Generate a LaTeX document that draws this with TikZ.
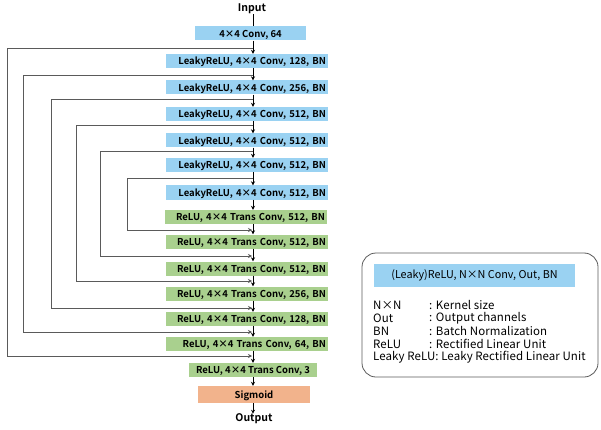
\documentclass[tikz,border=0pt]{standalone}
\usepackage{fontspec}
\setmainfont{Noto Sans CJK JP}[BoldFont={Noto Sans CJK JP Bold}]
\usetikzlibrary{arrows.meta}
\definecolor{bblue}{HTML}{9AD2F2}
\definecolor{bgreen}{HTML}{A9D08E}
\definecolor{borange}{HTML}{F2B38C}
\definecolor{skipgray}{HTML}{5A5A5A}
\tikzset{
  blk/.style={rectangle, inner xsep=2pt, inner ysep=0pt, minimum height=14pt, font=\bfseries\fontsize{9.5}{10}\selectfont, text depth=0pt},
  bluebox/.style={blk, fill=bblue},
  greenbox/.style={blk, fill=bgreen},
  widebox/.style={text width=158pt, align=right},
  marr/.style={line width=1pt, -{Stealth[length=4pt,width=4pt]}},
  skipline/.style={line width=0.8pt, draw=skipgray, -{Stealth[length=4pt,width=4pt]}},
  lbl/.style={font=\bfseries\fontsize{10.5}{11}\selectfont, inner sep=0pt},
  legtxt/.style={font=\fontsize{11.5}{12}\selectfont\addfontfeature{LetterSpace=0.8}, inner sep=0pt, anchor=west}
}
\begin{document}
\begin{tikzpicture}[x=1pt,y=-1pt]
\useasboundingbox (0,0) rectangle (601,430);
\coordinate (mx) at (253,0);
% nodes
\node[lbl] (in) at (252,9) {Input};
\node[bluebox, minimum width=111pt] (b1) at (250.5,33.5) {4×4 Conv, 64};
\node[bluebox, widebox] (b2) at (247,61) {LeakyReLU, 4×4 Conv, 128, BN};
\node[bluebox, widebox] (b3) at (247,87.5) {LeakyReLU, 4×4 Conv, 256, BN};
\node[bluebox, widebox] (b4) at (247,114) {LeakyReLU, 4×4 Conv, 512, BN};
\node[bluebox, widebox] (b5) at (247,140.5) {LeakyReLU, 4×4 Conv, 512, BN};
\node[bluebox, widebox] (b6) at (247,165) {LeakyReLU, 4×4 Conv, 512, BN};
\node[bluebox, widebox] (b7) at (247,192.5) {LeakyReLU, 4×4 Conv, 512, BN};
\node[greenbox, widebox] (g1) at (246,217) {ReLU, 4×4 Trans Conv, 512, BN};
\node[greenbox, widebox] (g2) at (247,241.5) {ReLU, 4×4 Trans Conv, 512, BN};
\node[greenbox, widebox] (g3) at (247,268.5) {ReLU, 4×4 Trans Conv, 512, BN};
\node[greenbox, widebox] (g4) at (247,293.5) {ReLU, 4×4 Trans Conv, 256, BN};
\node[greenbox, widebox] (g5) at (247,319) {ReLU, 4×4 Trans Conv, 128, BN};
\node[greenbox, widebox] (g6) at (247,344) {ReLU, 4×4 Trans Conv, 64, BN};
\node[greenbox, minimum width=128pt] (g7) at (253,370) {ReLU, 4×4 Trans Conv, 3};
\node[blk, fill=borange, minimum width=112pt, minimum height=17pt] (sg) at (254,394.5) {Sigmoid};
\node[lbl] (out) at (254,419) {Output};
% main flow
\draw[line width=1pt] (in.south -| mx) -- (b1.north -| mx);
\foreach \a/\b in {b1/b2,b2/b3,b3/b4,b4/b5,b5/b6,b6/b7,b7/g1,g1/g2,g2/g3,g3/g4,g4/g5,g5/g6,g6/g7,g7/sg,sg/out}
  \draw[marr] (\a.south -| mx) -- (\b.north -| mx);
% skip connections
\foreach \i/\ys/\yt/\xl in {1/48/356/7, 2/75/332/23, 3/99/308/51, 4/125/281/76, 5/151/256/100, 6/178/230/127}{
  \coordinate (s\i) at (253,\ys);
  \coordinate (t\i) at (252,\yt);
  \coordinate (l\i) at (\xl,\ys);
  \draw[skipline] (s\i) -- (l\i) |- (t\i);
}
% legend
\draw[draw=skipgray, line width=0.8pt, rounded corners=14pt] (362,253) rectangle (598,377);
\node[rectangle, fill=bblue, minimum width=201pt, minimum height=23pt, inner sep=0pt, font=\fontsize{10.8}{11}\selectfont] (lg) at (474.5,275.5) {(Leaky)ReLU, N×N Conv, Out, BN};
\node[legtxt] (k1) at (373,305) {N×N};
\node[legtxt] (k2) at (373,318) {Out};
\node[legtxt] (k3) at (373,331) {BN};
\node[legtxt] (k4) at (373,344) {ReLU};
\node[legtxt] (k5) at (373,357.5) {Leaky ReLU: Leaky Rectified Linear Unit};
\node[legtxt] (v1) at (429,305) {: Kernel size};
\node[legtxt] (v2) at (429,318) {: Output channels};
\node[legtxt] (v3) at (429,331) {: Batch Normalization};
\node[legtxt] (v4) at (429,344) {: Rectified Linear Unit};
\end{tikzpicture}
\end{document}
